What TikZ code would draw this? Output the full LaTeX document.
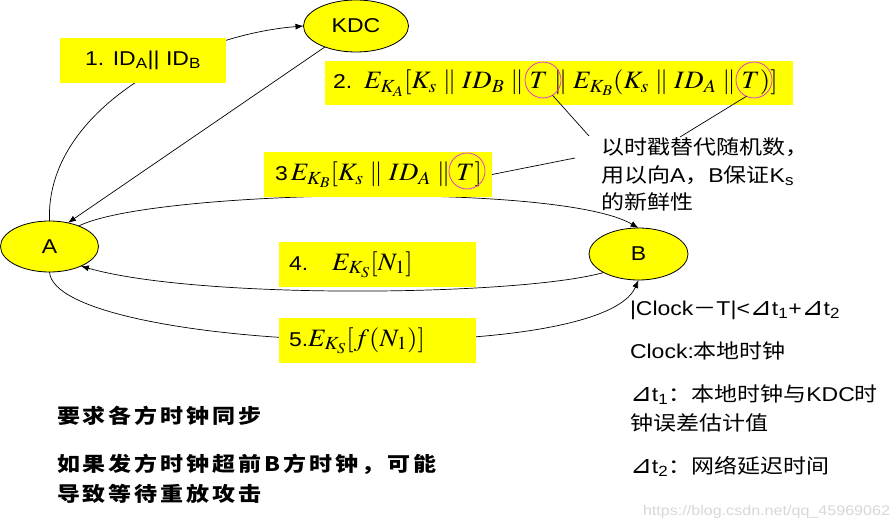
\documentclass[tikz,border=0pt]{standalone}
\usepackage{mathptmx}
\usepackage[no-math]{fontspec}
\setmainfont{Liberation Sans}[FakeStretch=1.15]
\newfontfamily\cjk{Noto Sans CJK SC}[FakeStretch=1.15]
\newfontfamily\djs{DejaVu Sans}[FakeStretch=1.05]
\usetikzlibrary{arrows.meta,shapes.geometric}
\definecolor{yel}{RGB}{255,255,0}
\definecolor{mag}{RGB}{230,60,200}
\definecolor{wmgray}{RGB}{215,215,215}
\newcommand\mth[1]{\scalebox{1.07}[1]{\fontsize{25}{30}\selectfont$#1$}}
\newcommand\tri{{\djs\fontsize{25}{30}\selectfont ⊿}}
\begin{document}
\begin{tikzpicture}[x=1pt,y=-1pt,
  every node/.style={inner sep=0pt, outer sep=0pt, font=\fontsize{20}{24}\selectfont},
  ell/.style={ellipse, draw=black, line width=0.8pt, fill=yel},
  lbl/.style={fill=yel, align=left},
  arr/.style={-{Latex[length=8pt,width=6pt]}, line width=0.7pt},
  ln/.style={line width=0.7pt},
  ring/.style={circle, draw=mag, line width=0.8pt, minimum size=36pt}
]
\useasboundingbox (0,0) rectangle (895,527);
% parties
\node[ell, minimum width=105pt, minimum height=52pt] (KDC) at (356,26) {KDC};
\node[ell, minimum width=98pt, minimum height=51pt] (A) at (49.5,246.5) {A};
\node[ell, minimum width=99pt, minimum height=52pt] (B) at (638.5,254) {B};
% messages
\draw[arr] (A.north) .. controls (45,110) and (190,35) .. (KDC.west);
\draw[arr] (KDC.214) -- (A.52);
\draw[arr] (A.35) .. controls (150,190) and (560,182) .. (B.north);
\draw[arr] (B.208) .. controls (520,296) and (200,300) .. (A.-32);
\draw[arr] (A.south) .. controls (55,350) and (600,370) .. (B.south);
% labels
\node[lbl, align=center, minimum width=166pt, minimum height=45pt] (b1) at (143,60.5)
  {1. ID\textsubscript{A}|| ID\textsubscript{B}};
\node[lbl, inner xsep=8pt, text width=452pt, minimum height=44pt] (b2) at (559,83)
  {\mbox{2.\hspace{12pt}\mth{E_{K_A}[K_s\parallel ID_B\parallel T\parallel E_{K_B}(K_s\parallel ID_A\parallel T)]}}};
\node[lbl, inner xsep=11pt, text width=206pt, minimum height=45pt] (b3) at (378,174.5)
  {\mbox{3\hspace{3pt}\mth{E_{K_B}[K_s\parallel ID_A\parallel T]}}};
\node[lbl, inner xsep=10pt, text width=177pt, minimum height=45pt] (b4) at (377.5,264.5)
  {\mbox{4.\hspace{24pt}\mth{E_{K_S}[N_1]}}};
\node[lbl, inner xsep=10pt, text width=177pt, minimum height=45pt] (b5) at (377.5,340.5)
  {\mbox{5.\mth{E_{K_S}[f(N_1)]}}};
% time stamp marks
\node[ring] (c1) at (543,80) {};
\node[ring] (c2) at (754,80) {};
\node[ring] (c3) at (467,171) {};
\node[anchor=north west, align=left, font=\cjk\fontsize{20}{27.5}\selectfont] (note) at (601,138)
  {以时戳替代随机数，\\用以向{\rmfamily A}，{\rmfamily B}保证{\rmfamily K\textsubscript{s}}\\的新鲜性};
\coordinate (p1) at (589,136);
\coordinate (p2) at (680,137);
\coordinate (p3) at (575,158);
\draw[ln] (c1.-58) -- (p1);
\draw[ln] (c2.-115) -- (p2);
\draw[ln] (b3.east) -- (p3);
% clock notes
\node[anchor=base west] (r1) at (630,315) {|Clock{\cjk －}T|<\tri t\textsubscript{1}+\tri t\textsubscript{2}};
\node[anchor=base west] (r2) at (630,358) {Clock:{\cjk 本地时钟}};
\node[anchor=base west] (r3) at (630,401) {\tri t\textsubscript{1}{\cjk ：本地时钟与}KDC{\cjk 时}};
\node[anchor=base west] (r3b) at (630,430) {\cjk 钟误差估计值};
\node[anchor=base west] (r4) at (630,473) {\tri t\textsubscript{2}{\cjk ：网络延迟时间}};
% bottom remarks
\tikzset{remark/.style={anchor=base west, font=\cjk\bfseries\fontsize{20}{24}\selectfont\addfontfeature{LetterSpace=15}}}
\node[remark] (s1) at (57,423) {要求各方时钟同步};
\node[remark] (s2) at (57,471) {如果发方时钟超前B方时钟，可能};
\node[remark] (s3) at (57,501) {导致等待重放攻击};
\node[anchor=base west, text=wmgray, font=\fontsize{14}{16}\selectfont] (wm) at (643,515) {https://blog.csdn.net/qq\_45969062};
\end{tikzpicture}
\end{document}
